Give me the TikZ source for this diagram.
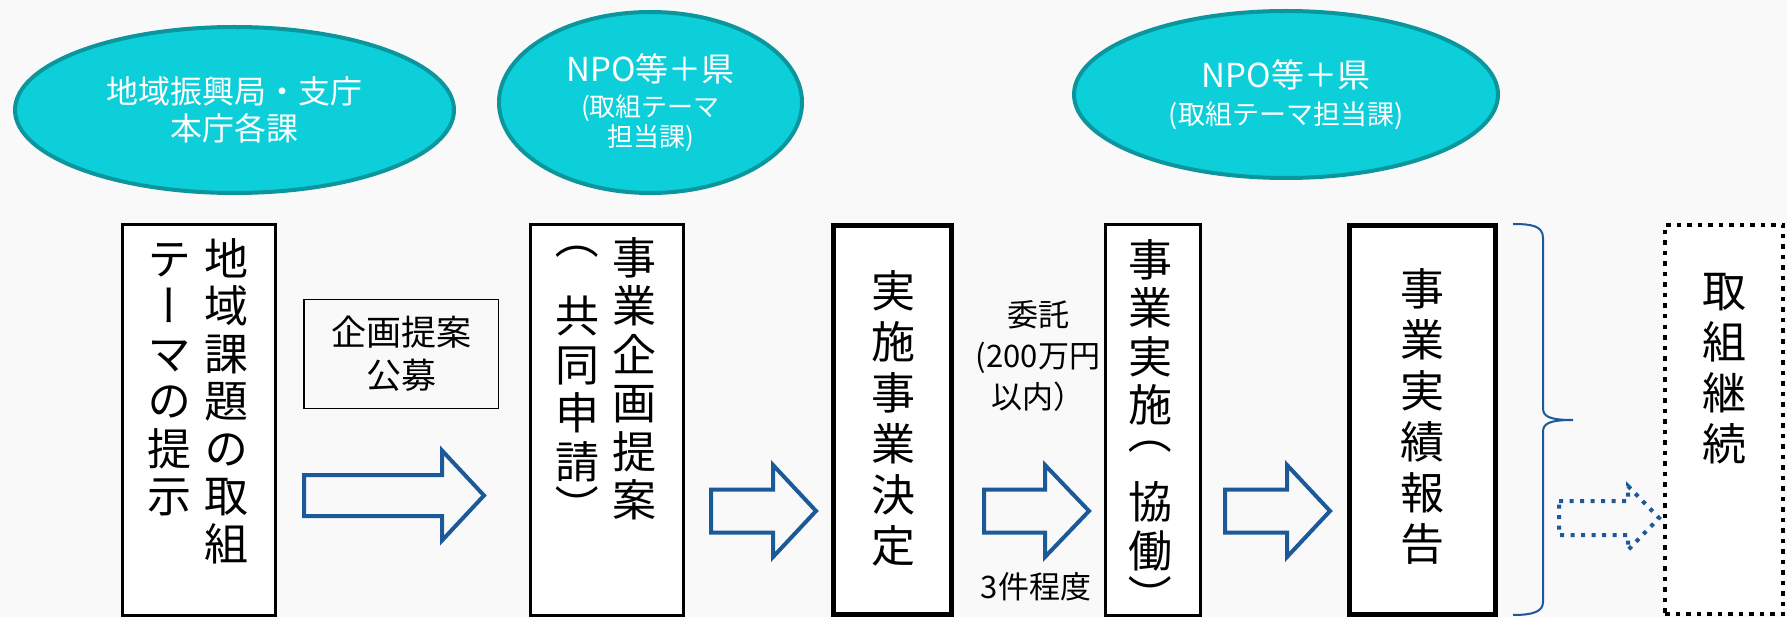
\documentclass[tikz,border=0pt]{standalone}
\usepackage{fontspec}
\usepackage{graphicx}
\newfontfamily\jp{Noto Sans CJK JP}
\newfontfamily\jpv[RawFeature=+vert]{Noto Sans CJK JP}
\usetikzlibrary{shapes.geometric}
\definecolor{cyanfill}{RGB}{12,207,217}
\definecolor{cyanline}{RGB}{10,150,156}
\definecolor{arrowblue}{RGB}{28,89,152}
\definecolor{bgc}{RGB}{249,249,249}
\newcommand{\vs}{\rule{0pt}{40pt}}
\newcommand{\vlp}[1]{\raisebox{#1}[0pt][0pt]{\rotatebox[origin=c]{-90}{\jp （}}}
\newcommand{\vrp}[1]{\raisebox{#1}[0pt][0pt]{\rotatebox[origin=c]{-90}{\jp ）}}}
\newcommand{\blockarrow}[7][]{%
  \draw[#1] (#2,{#5-#6}) -- (#3,{#5-#6}) -- (#3,{#5-#7}) -- (#4,#5)
    -- (#3,{#5+#7}) -- (#3,{#5+#6}) -- (#2,{#5+#6}) -- cycle;}
\tikzset{
  ell/.style={ellipse, draw=cyanline, fill=cyanfill, line width=4pt, inner sep=0pt, text=white, align=center},
  vbox/.style={rectangle, draw=black, fill=white, line width=3pt, inner sep=0pt},
  vboxthick/.style={vbox, line width=5pt},
  vcol/.style={inner sep=0pt, anchor=north, align=center, font={\jpv\fontsize{44}{#1}\selectfont}},
  vcol/.default=48,
  lbl/.style={inner sep=0pt, align=center, font={\jp\fontsize{31}{41}\selectfont}},
  blockarr/.style={draw=arrowblue, line width=4pt, line join=miter},
  dotarr/.style={blockarr, dash pattern=on 4pt off 6.5pt},
}
\begin{document}
\begin{tikzpicture}[x=1pt,y=-1pt]
\useasboundingbox (0,0) rectangle (1787,617);
\fill[bgc] (0,0) rectangle (1787,617);

% ellipses
\node[ell, minimum width=439pt, minimum height=166pt, font={\jp\fontsize{32}{37}\selectfont}] (e1) at (234.5,110) {地域振興局・支庁\\本庁各課};
\node[ell, minimum width=303pt, minimum height=181pt, font={\jp\fontsize{26}{30}\selectfont}] (e2) at (650.5,102.5) {{\fontsize{33}{33}\selectfont NPO等＋県}\\[5pt](取組テーマ\\担当課)};
\node[ell, minimum width=424pt, minimum height=167pt, font={\jp\fontsize{27}{37}\selectfont}] (e3) at (1286,94.5) {{\fontsize{33}{33}\selectfont NPO等＋県}\\(取組テーマ担当課)};

% boxes
\node[vbox, minimum width=153pt, minimum height=391pt] (b1) at (199,420) {};
\node[vbox, minimum width=153pt, minimum height=391pt] (b2) at (607,420) {};
\node[vboxthick, minimum width=118pt, minimum height=389pt] (b3) at (892.5,420) {};
\node[vbox, line width=3.3pt, minimum width=95pt, minimum height=391pt] (b4) at (1153,420) {};
\node[vboxthick, minimum width=146pt, minimum height=389pt] (b5) at (1422.5,420) {};
\node[vbox, line width=4.5pt, dash pattern=on 4.5pt off 6pt, minimum width=118pt, minimum height=389pt] (b6) at (1724,419.5) {};

% vertical texts
\node[vcol=47.5] (t1a) at (226,235) {\vs 地\\域\\課\\題\\の\\取\\組};
\node[vcol=47.5] (t1b) at (169,235) {\vs テ\\ー\\マ\\の\\提\\示};
\node[vcol=48.5] (t2a) at (634,234) {\vs 事\\業\\企\\画\\提\\案};
\node[vcol=48.5] (t2b) at (577,244) {\vs \vlp{30pt}\\共\\同\\申\\請\\\vrp{3pt}};
\node[vcol=51] (t3) at (893,267) {\vs 実\\施\\事\\業\\決\\定};
\node[vcol=48.5] (t4) at (1150,236) {\vs 事\\業\\実\\施\\\vlp{21pt}\\協\\働\\\vrp{2pt}};
\node[vcol=51] (t5) at (1422,265) {\vs 事\\業\\実\\績\\報\\告};
\node[vcol=51] (t6) at (1724,267) {\vs 取\\組\\継\\続};

% label box and labels
\node[draw, line width=1.5pt, minimum width=194.5pt, minimum height=108.5pt, inner sep=0pt, align=center, font={\jp\fontsize{35}{43}\selectfont}] (lb) at (401,354) {企画提案\\公募};
\node[lbl] (l1) at (1038,356) {委託\\(200万円\\以内）};
\node[lbl] (l2) at (1036,587) {3件程度};

% block arrows
\blockarrow[blockarr]{304}{442}{484}{495.5}{20.5}{45}
\blockarrow[blockarr]{711}{773}{816}{511}{21.5}{46}
\blockarrow[blockarr]{984}{1045}{1089}{511}{21.5}{46}
\blockarrow[blockarr]{1225}{1287}{1330}{511}{21.5}{46}
\blockarrow[dotarr]{1559}{1628}{1659}{518}{17}{32}

% brace
\draw[arrowblue, line width=2pt] (1513,224) .. controls (1532,224) and (1543,226) .. (1543,238)
  -- (1543,408) .. controls (1543,416) and (1548,420) .. (1573,420)
  .. controls (1548,420) and (1543,424) .. (1543,432)
  -- (1543,602) .. controls (1543,612) and (1532,615) .. (1513,615);
\end{tikzpicture}
\end{document}
